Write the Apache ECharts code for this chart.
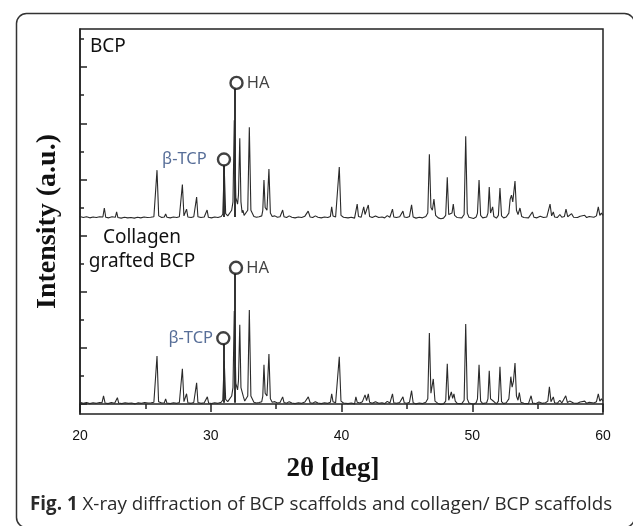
<!DOCTYPE html>
<html>
<head>
<meta charset="utf-8">
<script src="https://cdn.jsdelivr.net/npm/echarts@6/dist/echarts.min.js"></script>
<style>
html,body{margin:0;padding:0;background:#fff;}
#chart{width:633px;height:526px;}
</style>
</head>
<body>
<div id="chart"></div>
<script>
// ---- Data (2θ in degrees, intensity in a.u., BCP pattern offset upward) ----
const xTickLabels = [20, 30, 40, 50, 60];
const yMajorTicks = [0, 200, 400, 600, 800, 1000, 1200];
const yMinorTicks = [100, 300, 500, 700, 900, 1100, 1300];

const bcpPattern = [
[20.0,668],[20.25,664],[20.5,667],[20.75,663],[21.0,666],[21.25,664],[21.5,667],[21.75,666],[21.86,698],[21.97,665],
[22.2,663],[22.45,667],[22.7,665],[22.8,684],[22.9,664],[23.15,662],[23.4,665],[23.65,663],[23.9,664],[24.15,662],
[24.4,665],[24.65,663],[24.9,666],[25.15,664],[25.4,665],[25.65,667],[25.76,672],[25.89,833],[26.02,670],[26.25,664],
[26.45,666],[26.55,677],[26.65,665],[26.9,663],[27.15,666],[27.4,664],[27.6,667],[27.72,672],[27.83,782],[27.95,670],
[28.05,668],[28.15,694],[28.25,666],[28.5,664],[28.7,667],[28.82,670],[28.92,737],[29.02,667],[29.25,664],[29.5,666],
[29.62,668],[29.72,691],[29.82,665],[30.05,663],[30.3,666],[30.55,664],[30.8,668],[30.92,676],[31.03,844],[31.14,678],
[31.3,670],[31.45,675],[31.6,690],[31.7,720],[31.8,1011],[31.92,735],[32.05,712],[32.12,745],[32.22,947],[32.31,720],
[32.4,681],[32.47,690],[32.55,672],[32.7,668],[32.83,690],[32.95,986],[33.07,690],[33.2,694],[33.3,668],[33.5,665],
[33.7,667],[33.9,670],[33.98,690],[34.07,798],[34.16,700],[34.3,690],[34.45,837],[34.56,680],[34.7,668],[34.9,670],
[35.1,665],[35.3,667],[35.5,691],[35.6,667],[35.8,664],[36.0,670],[36.2,665],[36.45,663],[36.7,666],[36.95,664],
[37.2,669],[37.45,687],[37.6,666],[37.8,664],[38.0,670],[38.2,665],[38.45,663],[38.7,666],[38.95,664],[39.15,668],
[39.25,702],[39.35,670],[39.55,666],[39.7,672],[39.83,844],[39.96,672],[40.15,665],[40.3,670],[40.5,663],[40.75,665],
[41.0,662],[41.1,668],[41.2,712],[41.3,668],[41.5,665],[41.6,670],[41.7,702],[41.8,675],[41.95,672],[42.05,709],
[42.15,668],[42.35,664],[42.6,670],[42.85,664],[43.1,666],[43.3,663],[43.5,671],[43.7,665],[43.82,668],[43.9,694],
[44.0,666],[44.2,664],[44.45,667],[44.6,670],[44.7,687],[44.8,666],[45.0,664],[45.2,668],[45.36,709],[45.48,666],
[45.7,662],[45.95,665],[46.2,663],[46.45,668],[46.6,680],[46.72,890],[46.84,700],[46.95,690],[47.07,730],[47.2,672],
[47.4,663],[47.6,660],[47.8,662],[47.97,672],[48.09,808],[48.2,675],[48.35,670],[48.45,680],[48.55,712],[48.65,672],
[48.85,664],[49.0,669],[49.2,663],[49.38,675],[49.5,954],[49.62,680],[49.75,665],[49.9,658],[50.1,661],[50.3,666],
[50.4,680],[50.52,798],[50.64,672],[50.8,663],[50.9,669],[51.1,666],[51.2,680],[51.3,773],[51.4,680],[51.5,675],
[51.56,702],[51.65,668],[51.85,662],[52.0,672],[52.12,769],[52.24,670],[52.4,663],[52.6,666],[52.8,680],[52.9,730],
[53.0,744],[53.1,720],[53.27,794],[53.38,690],[53.5,675],[53.65,698],[53.78,668],[53.95,664],[54.1,669],[54.3,663],
[54.45,666],[54.6,684],[54.72,665],[54.95,663],[55.2,669],[55.45,664],[55.7,666],[55.83,672],[55.95,712],[56.07,670],
[56.2,684],[56.3,666],[56.5,664],[56.7,675],[56.85,665],[57.05,668],[57.17,694],[57.3,667],[57.45,672],[57.6,678],
[57.75,665],[57.9,671],[58.05,664],[58.25,669],[58.4,665],[58.6,672],[58.75,664],[58.95,668],[59.1,673],[59.3,665],
[59.5,670],[59.64,702],[59.76,672],[59.88,680],[60.0,672]
];

const collagenPattern = [
[20.0,6],[20.25,2],[20.5,5],[20.75,1],[21.0,4],[21.25,2],[21.5,5],[21.68,4],[21.8,29],[21.92,3],
[22.15,1],[22.4,5],[22.65,2],[22.76,4],[22.86,22],[22.96,3],[23.2,1],[23.45,4],[23.7,2],[23.95,3],
[24.2,0],[24.45,4],[24.7,2],[24.95,5],[25.2,3],[25.45,4],[25.65,6],[25.77,10],[25.89,171],[26.01,8],
[26.25,3],[26.45,4],[26.55,18],[26.65,3],[26.9,1],[27.15,4],[27.4,2],[27.6,5],[27.72,10],[27.83,125],
[27.95,8],[28.05,6],[28.15,36],[28.25,4],[28.5,2],[28.7,5],[28.82,8],[28.92,75],[29.02,5],[29.25,2],
[29.5,4],[29.64,6],[29.74,25],[29.84,3],[30.05,1],[30.3,4],[30.55,2],[30.8,6],[30.92,14],[31.03,154],
[31.14,16],[31.3,8],[31.45,13],[31.6,28],[31.7,58],[31.8,331],[31.92,73],[32.05,50],[32.12,83],[32.22,282],
[32.31,58],[32.4,57],[32.5,25],[32.6,10],[32.7,8],[32.83,28],[32.95,335],[33.07,28],[33.2,32],[33.3,6],
[33.5,3],[33.7,5],[33.9,8],[33.98,28],[34.07,139],[34.16,38],[34.3,28],[34.45,178],[34.56,18],[34.7,6],
[34.9,8],[35.1,3],[35.3,5],[35.5,25],[35.6,5],[35.8,2],[36.0,8],[36.2,3],[36.45,1],[36.7,4],
[36.95,2],[37.2,7],[37.46,25],[37.6,4],[37.8,2],[38.0,8],[38.2,3],[38.45,1],[38.7,4],[38.95,2],
[39.15,6],[39.25,36],[39.35,8],[39.55,4],[39.7,10],[39.83,168],[39.96,10],[40.15,3],[40.3,8],[40.5,1],
[40.75,3],[41.0,0],[41.1,25],[41.2,6],[41.4,3],[41.6,8],[41.8,32],[41.92,12],[42.05,36],[42.15,6],
[42.35,2],[42.6,8],[42.85,2],[43.1,4],[43.3,1],[43.5,9],[43.7,3],[43.82,6],[43.9,36],[44.0,4],
[44.2,2],[44.45,5],[44.6,8],[44.7,25],[44.8,4],[45.0,2],[45.2,6],[45.36,47],[45.48,4],[45.7,0],
[45.95,3],[46.2,1],[46.45,6],[46.6,18],[46.72,253],[46.84,38],[46.92,40],[47.02,89],[47.15,10],[47.4,1],
[47.6,-2],[47.8,0],[47.97,10],[48.09,143],[48.2,13],[48.3,18],[48.4,43],[48.5,20],[48.6,36],[48.7,10],
[48.85,2],[49.0,7],[49.2,1],[49.38,13],[49.5,285],[49.62,18],[49.75,3],[49.9,-4],[50.1,-1],[50.3,4],
[50.4,18],[50.52,139],[50.64,10],[50.8,1],[50.9,7],[51.1,4],[51.2,18],[51.3,118],[51.4,18],[51.5,13],
[51.56,12],[51.65,6],[51.85,0],[52.0,10],[52.12,132],[52.24,8],[52.4,1],[52.6,4],[52.8,18],[52.95,97],
[53.05,60],[53.15,80],[53.27,146],[53.38,28],[53.5,13],[53.6,40],[53.72,6],[53.95,2],[54.1,7],[54.3,1],
[54.5,29],[54.62,3],[54.85,1],[55.1,7],[55.35,2],[55.6,4],[55.78,10],[55.9,61],[56.02,8],[56.2,25],
[56.3,4],[56.5,2],[56.7,13],[56.85,3],[57.0,6],[57.15,29],[57.28,5],[57.45,10],[57.6,16],[57.75,3],
[57.9,9],[58.05,2],[58.25,7],[58.4,3],[58.6,10],[58.75,2],[58.95,6],[59.1,11],[59.3,3],[59.5,8],
[59.64,36],[59.76,10],[59.88,18],[60.0,10]
];

// Peak annotations (circle markers with drop stems)
const annotationNames = ['HA', 'β-TCP', 'HA', 'β-TCP'];
const annotationAngle = [31.97, 31.01, 31.93, 30.96];
const annotationLevel = [1144, 871, 485, 234];
const stemAngle = [31.8, 31.03, 31.8, 31.03];
const stemFrom = [666, 666, 4, 4];
const stemTo = [1123, 850, 464, 213];

const sampleLabels = ['BCP', 'Collagen\ngrafted BCP'];
const captionBold = 'Fig. 1';
const captionText = ' X-ray diffraction of BCP scaffolds and collagen/ BCP scaffolds';

// ---- Chart ----
const chart = echarts.init(document.getElementById('chart'), null, {renderer: 'canvas'});
const sans = '"Noto Sans", "Open Sans", sans-serif';
const serif = '"Liberation Serif", "DejaVu Serif", serif';
const labelBlue = '#2d4a7e';

const markerData = annotationNames.map((n, i) => {
  const isHA = n === 'HA';
  return {
    value: [annotationAngle[i], annotationLevel[i]],
    label: {
      show: true,
      formatter: n,
      position: isHA ? 'right' : 'left',
      distance: isHA ? 3 : (i === 1 ? 10 : 3),
      color: isHA ? '#111' : labelBlue,
      fontFamily: sans,
      fontSize: isHA ? 16.5 : 16.5
    }
  };
});

const stemData = stemAngle.map((a, i) => ({coords: [[a, stemFrom[i]], [a, stemTo[i]]]}));

chart.setOption({
  animation: false,
  backgroundColor: '#fff',
  grid: {left: 80, right: 30, top: 29, bottom: 112, show: true, borderColor: '#222', borderWidth: 1.5, backgroundColor: 'transparent'},
  xAxis: {
    type: 'value', min: 20, max: 60, interval: 10,
    name: '2θ [deg]', nameLocation: 'middle', nameGap: 42,
    nameTextStyle: {fontFamily: serif, fontWeight: 'bold', fontSize: 27, color: '#111', padding: [0, 17, 0, 0]},
    axisLine: {show: true, lineStyle: {color: '#222', width: 1.5}},
    axisTick: {show: true, inside: false, length: 8, lineStyle: {color: '#222', width: 1.5}},
    minorTick: {show: true, splitNumber: 2, length: 5, lineStyle: {color: '#222', width: 1.5}},
    axisLabel: {customValues: xTickLabels, margin: 15, color: '#111', fontFamily: '"Liberation Sans", Arial, sans-serif', fontSize: 14},
    splitLine: {show: false}
  },
  yAxis: [{
    type: 'value', min: -36, max: 1336,
    name: 'Intensity (a.u.)', nameLocation: 'middle', nameGap: 18,
    nameTextStyle: {fontFamily: serif, fontWeight: 'bold', fontSize: 28, color: '#111', padding: [0, 0, 0, 0]},
    axisLine: {show: true, lineStyle: {color: '#222', width: 1.5}},
    axisTick: {show: true, inside: true, length: 7, customValues: yMajorTicks, lineStyle: {color: '#222', width: 1.5}},
    axisLabel: {show: false},
    splitLine: {show: false}
  }, {
    type: 'value', min: -36, max: 1336, position: 'left',
    axisLine: {show: false},
    axisTick: {show: true, inside: true, length: 4, customValues: yMinorTicks, lineStyle: {color: '#222', width: 1.5}},
    axisLabel: {show: false},
    splitLine: {show: false}
  }],
  series: [
    {type: 'line', name: 'BCP', data: bcpPattern, showSymbol: false, symbol: 'none',
     lineStyle: {color: '#2a2a2a', width: 1.1}},
    {type: 'line', name: 'Collagen grafted BCP', data: collagenPattern, showSymbol: false, symbol: 'none',
     lineStyle: {color: '#2a2a2a', width: 1.1}},
    {type: 'lines', coordinateSystem: 'cartesian2d', data: stemData,
     lineStyle: {color: '#111', width: 1.7, opacity: 1}},
    {type: 'scatter', data: markerData, symbol: 'circle', symbolSize: 12,
     itemStyle: {color: 'rgba(255,255,255,0)', borderColor: '#111', borderWidth: 2.4}, z: 5}
  ],
  graphic: [
    {type: 'rect', left: 14, top: 11, shape: {width: 618, height: 514, r: 10},
     style: {fill: 'none', stroke: '#333', lineWidth: 1.5}, silent: true},
    {type: 'text', left: 90, top: 37, style: {text: sampleLabels[0], font: '19px ' + sans, fill: '#111'}},
    {type: 'text', x: 142, y: 226, style: {text: sampleLabels[1], font: '19px ' + sans, fill: '#111', align: 'center', lineHeight: 24}},
    {type: 'text', left: 30, top: 495, style: {
      text: '{b|' + captionBold + '}{r|' + captionText + '}',
      rich: {
        b: {fontFamily: '"Open Sans", sans-serif', fontWeight: 'bold', fontSize: 18.8, fill: '#2a2a2a'},
        r: {fontFamily: '"Open Sans", sans-serif', fontSize: 18.8, fill: '#2a2a2a'}
      }
    }}
  ]
});
</script>
</body>
</html>
